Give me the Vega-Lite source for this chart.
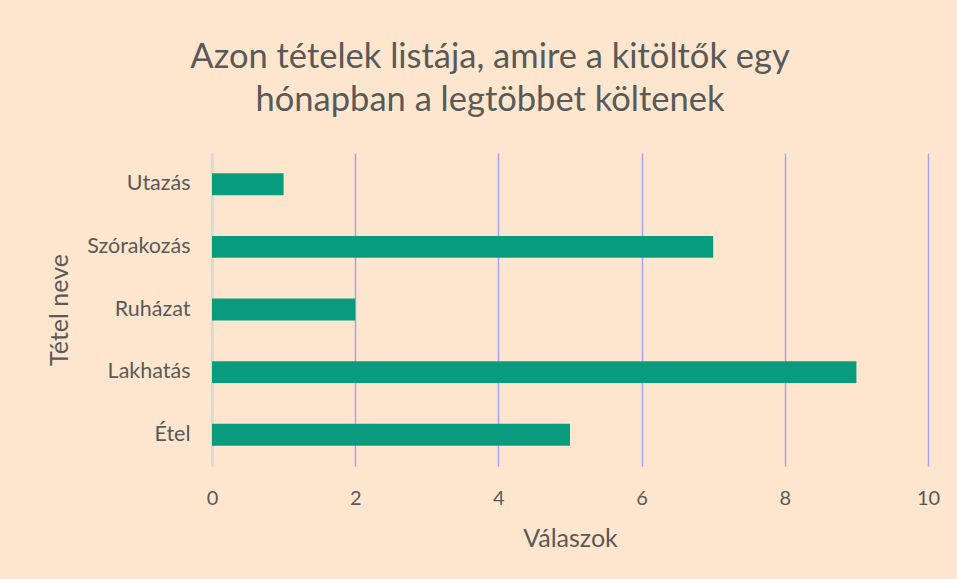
{
  "$schema": "https://vega.github.io/schema/vega-lite/v6.json",
  "autosize": "none",
  "width": 716,
  "height": 313,
  "padding": {"left": 212, "top": 153, "right": 29, "bottom": 113},
  "background": "#FEE6CE",
  "title": {
    "text": ["Azon tételek listája, amire a kitöltők egy", "hónapban a legtöbbet költenek"],
    "anchor": "middle",
    "frame": "group",
    "dx": -80,
    "offset": 35,
    "font": "Lato",
    "fontSize": 34.5,
    "fontWeight": "normal",
    "lineHeight": 43,
    "color": "#595959"
  },
  "data": {
    "values": [
      {"tetel": "Utazás", "valaszok": 1},
      {"tetel": "Szórakozás", "valaszok": 7},
      {"tetel": "Ruházat", "valaszok": 2},
      {"tetel": "Lakhatás", "valaszok": 9},
      {"tetel": "Étel", "valaszok": 5}
    ]
  },
  "mark": {"type": "bar", "color": "#099B7E"},
  "encoding": {
    "y": {
      "field": "tetel",
      "type": "nominal",
      "sort": ["Utazás", "Szórakozás", "Ruházat", "Lakhatás", "Étel"],
      "scale": {"paddingInner": 0.65, "paddingOuter": 0.325},
      "axis": {
        "title": "Tétel neve",
        "titleFont": "Lato",
        "titleFontSize": 25,
        "titleFontWeight": "normal",
        "titleColor": "#595959",
        "titlePadding": 14,
        "labelFont": "Lato",
        "labelFontSize": 21.5,
        "labelColor": "#595959",
        "labelPadding": 22,
        "ticks": false,
        "domain": true,
        "domainColor": "#D9D9D9",
        "domainWidth": 1.5,
        "grid": false
      }
    },
    "x": {
      "field": "valaszok",
      "type": "quantitative",
      "scale": {"domain": [0, 10]},
      "axis": {
        "title": "Válaszok",
        "titleFont": "Lato",
        "titleFontSize": 25,
        "titleFontWeight": "normal",
        "titleColor": "#595959",
        "titlePadding": 18,
        "labelFont": "Lato",
        "labelFontSize": 20,
        "labelColor": "#595959",
        "labelPadding": 22,
        "labelFlush": false,
        "values": [0, 2, 4, 6, 8, 10],
        "ticks": false,
        "domain": false,
        "grid": true,
        "gridColor": "#A3A3F5",
        "gridWidth": 1.5
      }
    }
  },
  "config": {"view": {"stroke": null}}
}
